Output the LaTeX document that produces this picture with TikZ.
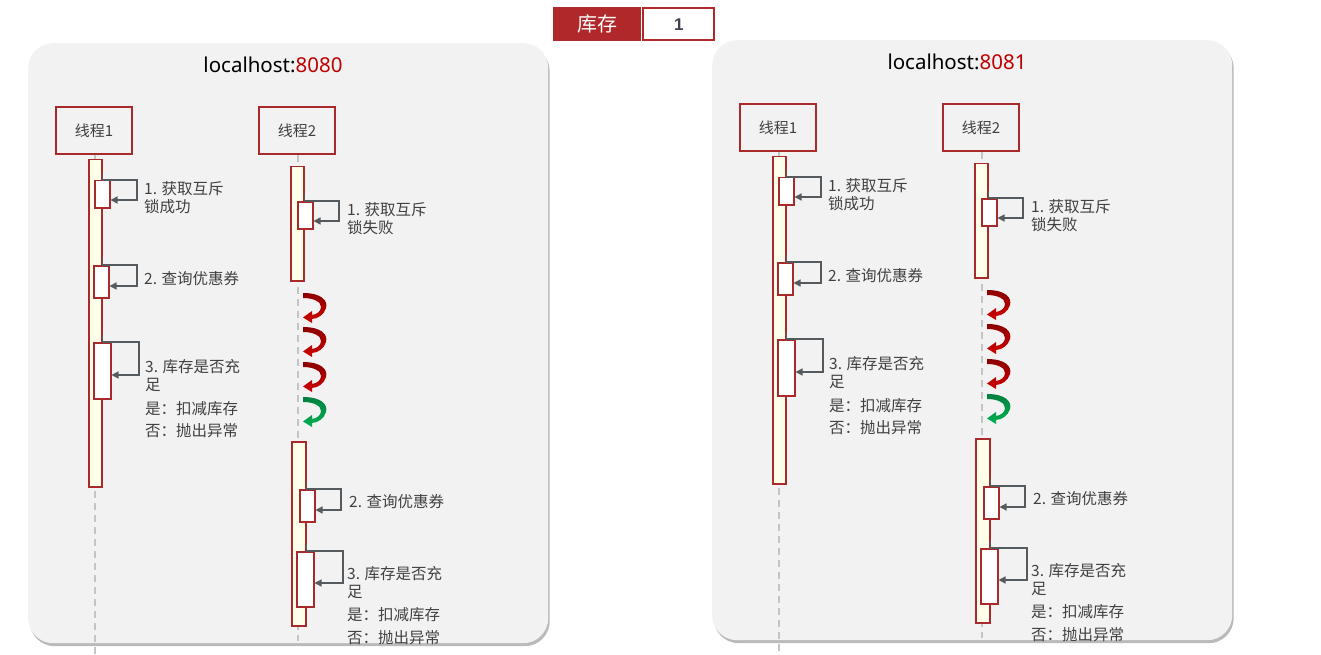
\documentclass[tikz,border=0pt]{standalone}
\usepackage{fontspec}
\setmainfont{Noto Sans CJK SC}
\newfontfamily\latinf{Noto Sans}
\newfontfamily\numf{Liberation Sans}
\usetikzlibrary{shadows,arrows.meta}
\definecolor{bred}{HTML}{A82A2A}
\definecolor{banred}{HTML}{B0282A}
\definecolor{panelbg}{HTML}{F2F2F2}
\definecolor{barfill}{HTML}{FFFFE9}
\definecolor{txt}{HTML}{404040}
\definecolor{loopc}{HTML}{555A5F}
\definecolor{life}{HTML}{C4C4C4}
\definecolor{portred}{HTML}{C00000}
\definecolor{numc}{HTML}{404050}
\definecolor{ured}{HTML}{D00000}
\definecolor{uredd}{HTML}{8B0000}
\definecolor{ugreen}{HTML}{00B050}
\definecolor{ugreend}{HTML}{008040}
\tikzset{
  panel/.style={fill=panelbg, rounded corners=25pt, anchor=north west, inner sep=0,
    minimum width=520pt, minimum height=600pt,
    drop shadow={shadow xshift=1.5pt, shadow yshift=-3pt, fill=black!60, opacity=0.45}},
  thread/.style={draw=bred, line width=1.5pt, minimum width=76pt, minimum height=47pt,
    inner sep=0, font=\fontsize{15}{18}\selectfont, text=txt},
  actbar/.style={draw=bred, line width=1.5pt, fill=barfill, inner sep=0, anchor=north west},
  subbox/.style={draw=bred, line width=1.5pt, fill=white, inner sep=0, anchor=north west},
  selfmsg/.style={draw=loopc, line width=1.3pt, -{Triangle[length=7pt,width=7pt]}},
  lbl/.style={anchor=north west, inner sep=0, text=txt, font=\fontsize{15.5}{18}\selectfont, align=left},
  lifeline/.style={draw=life, line width=1.5pt, dash pattern=on 7pt off 5pt},
  pics/uturn/.style 2 args={code={
    \shade[top color=#1, bottom color=#2]
      (0,0) .. controls (19,0) and (25,8) .. (23,15)
      .. controls (21,22) and (15,25.5) .. (9,26)
      -- (9,30) -- (0,24.5) -- (9,18) -- (9,22)
      .. controls (14,21.5) and (18,18) .. (18,14)
      .. controls (18,9) and (11,5) .. (0,5) -- cycle;
  }}
}
\newcommand\hostpanel[2]{%
  \node[panel] (#1panel) at (28,43) {};
  \node[font=\latinf\fontsize{20.5}{24}\selectfont, inner sep=0] (#1title) at (273,65)
    {localhost:\textcolor{portred}{#2}};
  \node[thread] (#1t1) at (94,130.5) {线程1};
  \node[thread] (#1t2) at (297,130.5) {线程2};
  \coordinate (#1e1) at (95,662);
  \coordinate (#1e2) at (298,641);
  \draw[lifeline] (#1t1.south -| #1e1) -- (#1e1);
  \draw[lifeline] (#1t2.south -| #1e2) -- (#1e2);
  % thread 1
  \node[actbar, minimum width=13pt, minimum height=327pt] (#1b1) at (88,159) {};
  \node[subbox, minimum width=15pt, minimum height=27pt] (#1s11) at (94,180) {};
  \node[subbox, minimum width=15pt, minimum height=32pt] (#1s12) at (93,265) {};
  \node[subbox, minimum width=17pt, minimum height=56pt] (#1s13) at (93,342) {};
  \coordinate (#1r11) at (137,200);
  \coordinate (#1r12) at (137,286);
  \coordinate (#1r13) at (139,375);
  \draw[selfmsg] ([yshift=7pt]#1b1.east |- #1s11.north) -- (#1b1.east |- #1s11.north)
    -- (#1r11 |- #1s11.north) -- (#1r11) -- (#1s11.east |- #1r11);
  \draw[selfmsg] ([yshift=7pt]#1b1.east |- #1s12.north) -- (#1b1.east |- #1s12.north)
    -- (#1r12 |- #1s12.north) -- (#1r12) -- (#1s12.east |- #1r12);
  \draw[selfmsg] ([yshift=7pt]#1b1.east |- #1s13.north) -- (#1b1.east |- #1s13.north)
    -- (#1r13 |- #1s13.north) -- (#1r13) -- (#1s13.east |- #1r13);
  \node[lbl] (#1l11) at (144,181) {1. 获取互斥\\锁成功};
  \node[lbl] (#1l12) at (144,271) {2. 查询优惠券};
  \node[lbl] (#1l13) at (145,359) {3. 库存是否充\\足\\[6pt]是：扣减库存\\[4pt]否：抛出异常};
  % thread 2
  \node[actbar, minimum width=13pt, minimum height=114pt] (#1b2) at (290,166) {};
  \node[subbox, minimum width=15pt, minimum height=27pt] (#1s21) at (297,201) {};
  \node[actbar, minimum width=14pt, minimum height=184pt] (#1b3) at (291,441) {};
  \node[subbox, minimum width=15pt, minimum height=32pt] (#1s22) at (299,489) {};
  \node[subbox, minimum width=17pt, minimum height=55pt] (#1s23) at (296,551) {};
  \coordinate (#1r21) at (339,221);
  \coordinate (#1r22) at (341,510);
  \coordinate (#1r23) at (343,583);
  \draw[selfmsg] ([yshift=7pt]#1b2.east |- #1s21.north) -- (#1b2.east |- #1s21.north)
    -- (#1r21 |- #1s21.north) -- (#1r21) -- (#1s21.east |- #1r21);
  \draw[selfmsg] ([yshift=7pt]#1b3.east |- #1s22.north) -- (#1b3.east |- #1s22.north)
    -- (#1r22 |- #1s22.north) -- (#1r22) -- (#1s22.east |- #1r22);
  \draw[selfmsg] ([yshift=7pt]#1b3.east |- #1s23.north) -- (#1b3.east |- #1s23.north)
    -- (#1r23 |- #1s23.north) -- (#1r23) -- (#1s23.east |- #1r23);
  \node[lbl] (#1l21) at (347,202) {1. 获取互斥\\锁失败};
  \node[lbl] (#1l22) at (349,494) {2. 查询优惠券};
  \node[lbl] (#1l23) at (347,566) {3. 库存是否充\\足\\[5pt]是：扣减库存\\[5pt]否：抛出异常};
  % spinning arrows
  \pic at (303,293) {uturn={uredd}{ured}};
  \pic at (303,327) {uturn={uredd}{ured}};
  \pic at (303,362) {uturn={uredd}{ured}};
  \pic at (303,397) {uturn={ugreend}{ugreen}};
}
\begin{document}
\begin{tikzpicture}[x=1pt,y=-1pt]
\useasboundingbox[fill=white] (0,0) rectangle (1321,655);
% stock banner
\node[fill=banred, minimum width=88pt, minimum height=34pt, anchor=north west,
  text=white, font=\fontsize{20}{24}\selectfont, inner sep=0] (stock) at (553,7) {库存};
\node[draw=banred, line width=2pt, fill=white, minimum width=71pt, minimum height=32pt,
  anchor=west, inner sep=0, text=numc, font=\numf\bfseries\fontsize{17}{20}\selectfont]
  (count) at ([xshift=1pt]stock.east) {1};
\hostpanel{L}{8080}
\begin{scope}[shift={(684,-3)}]
\hostpanel{R}{8081}
\end{scope}
\end{tikzpicture}
\end{document}
